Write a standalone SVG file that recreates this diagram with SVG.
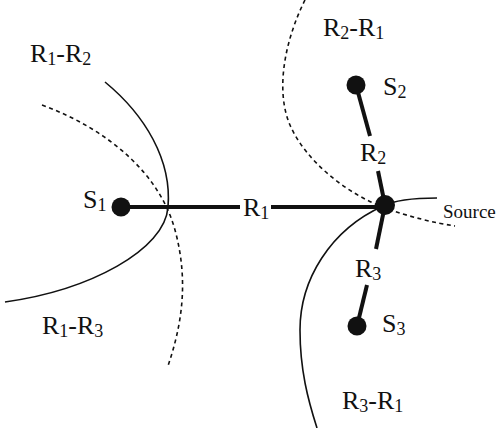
<svg xmlns="http://www.w3.org/2000/svg" width="501" height="428" viewBox="0 0 501 428">
<style>
.bg{fill:#fff}
.lbl{font-family:"Liberation Serif","Times New Roman",serif;font-size:26px;fill:#111}
.sub{font-size:18px}
.src{font-family:"Liberation Serif","Times New Roman",serif;font-size:19px;fill:#111}
.solid{fill:none;stroke:#111;stroke-width:1.6}
.dash{fill:none;stroke:#111;stroke-width:1.6;stroke-dasharray:4 3.5}
.edge{stroke:#111;stroke-width:4;fill:none}
.node{fill:#111}
</style>
<rect class="bg" width="501" height="428"/>
<g id="boundaries">
<path class="solid" d="M105,82 C145,115 172,160 168,207 C165,250 90,290 5,302"/>
<path class="dash" d="M42,105 C110,130 160,175 175,230 C190,285 180,330 168,366"/>
<path class="dash" d="M305,0 C285,40 275,90 290,125 C305,160 345,193 385,208 C410,217 435,223 455,226"/>
<path class="solid" d="M437,198 C415,198 395,200 383,206 C330,230 300,280 300,330 C300,370 308,400 317,428"/>
</g>
<g id="connectors">
<line class="edge" x1="121" y1="207" x2="240" y2="207"/>
<line class="edge" x1="271" y1="207" x2="385" y2="207"/>
<line class="edge" x1="356" y1="85" x2="370" y2="136"/>
<line class="edge" x1="378" y1="171" x2="385" y2="205"/>
<line class="edge" x1="385" y1="205" x2="376" y2="249"/>
<line class="edge" x1="367" y1="285" x2="357" y2="326"/>
<text class="lbl" x="243" y="216">R<tspan class="sub" dy="3">1</tspan></text>
<text class="lbl" x="360" y="161">R<tspan class="sub" dy="3">2</tspan></text>
<text class="lbl" x="355" y="277">R<tspan class="sub" dy="3">3</tspan></text>
</g>
<g id="S1">
<circle class="node" cx="121" cy="207" r="9.5"/>
<text class="lbl" x="83" y="208">S<tspan class="sub" dy="3">1</tspan></text>
</g>
<g id="S2">
<circle class="node" cx="356" cy="85" r="9.5"/>
<text class="lbl" x="383" y="95">S<tspan class="sub" dy="3">2</tspan></text>
</g>
<g id="S3">
<circle class="node" cx="357" cy="326" r="9.5"/>
<text class="lbl" x="382" y="332">S<tspan class="sub" dy="3">3</tspan></text>
</g>
<g id="Source">
<circle class="node" cx="385" cy="205" r="10"/>
<text class="src" x="443" y="218">Source</text>
</g>
<g id="regions">
<text class="lbl" x="30" y="62">R<tspan class="sub" dy="3">1</tspan><tspan dy="-3">-R</tspan><tspan class="sub" dy="3">2</tspan></text>
<text class="lbl" x="323" y="36">R<tspan class="sub" dy="3">2</tspan><tspan dy="-3">-R</tspan><tspan class="sub" dy="3">1</tspan></text>
<text class="lbl" x="42" y="334">R<tspan class="sub" dy="3">1</tspan><tspan dy="-3">-R</tspan><tspan class="sub" dy="3">3</tspan></text>
<text class="lbl" x="342" y="409">R<tspan class="sub" dy="3">3</tspan><tspan dy="-3">-R</tspan><tspan class="sub" dy="3">1</tspan></text>
</g>
</svg>
